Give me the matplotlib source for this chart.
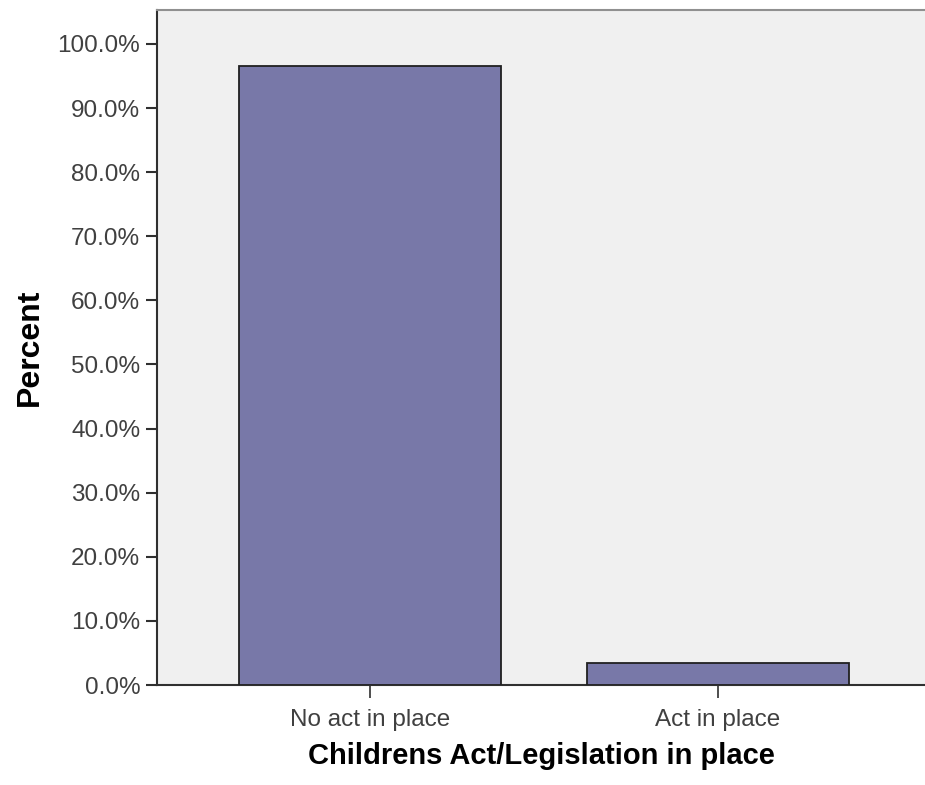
import matplotlib
matplotlib.use("Agg")
import matplotlib.pyplot as plt
import numpy as np
from matplotlib.ticker import FuncFormatter

categories = ["No act in place", "Act in place"]
percents = [96.6, 3.4]

plt.rcParams["font.family"] = ["Liberation Sans", "DejaVu Sans"]

fig = plt.figure(figsize=(9.25, 7.85), dpi=100)
ax = fig.add_axes([157 / 925, 100 / 785, 1 - 157 / 925, 675 / 785])
ax.set_facecolor("#f0f0f0")

x = np.arange(len(categories))
ax.bar(x, percents, width=0.753, color="#7878a8", edgecolor="#202020", linewidth=1.3, zorder=3)

ax.set_xlim(-0.612, 1.595)
ax.set_ylim(0, 105.3)
ax.set_yticks(np.arange(0, 101, 10))
ax.yaxis.set_major_formatter(FuncFormatter(lambda v, _: f"{v:.1f}%"))
ax.set_xticks(x)
ax.set_xticklabels(categories)

ax.tick_params(axis="y", length=8, width=1.5, color="#303030", labelsize=17.5, labelcolor="#404040", pad=4)
ax.tick_params(axis="x", length=9.5, width=1.2, color="#303030", labelsize=17.5, labelcolor="#404040", pad=8)

ax.spines["left"].set_color("#303030")
ax.spines["left"].set_linewidth(1.5)
ax.spines["bottom"].set_color("#303030")
ax.spines["bottom"].set_linewidth(1.5)
ax.spines["top"].set_color("#909090")
ax.spines["top"].set_linewidth(1.5)
ax.spines["right"].set_visible(False)

ax.set_ylabel("Percent", fontsize=23, fontweight="bold", labelpad=9)
ax.set_xlabel("Childrens Act/Legislation in place", fontsize=21, fontweight="bold", labelpad=8)

fig.savefig("out.png", dpi=100)
